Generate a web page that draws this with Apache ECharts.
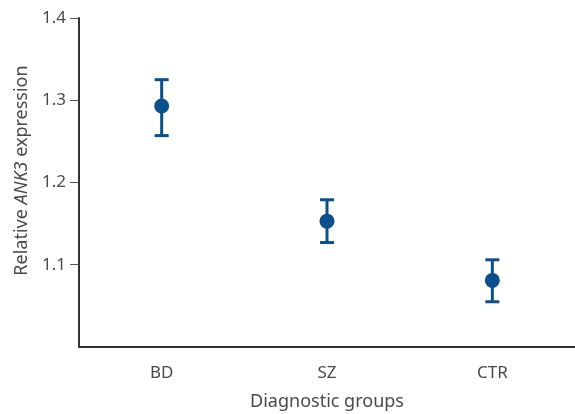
<!DOCTYPE html>
<html>
<head>
<meta charset="utf-8">
<script src="https://cdn.jsdelivr.net/npm/echarts@6/dist/echarts.min.js"></script>
<style>
html,body{margin:0;padding:0;background:#fff;}
#chart{width:575px;height:414px;}
</style>
</head>
<body>
<div id="chart"></div>
<script>
var categories = ['BD', 'SZ', 'CTR'];
var means = [1.293, 1.153, 1.081];
var upper = [1.325, 1.179, 1.106];
var lower = [1.257, 1.127, 1.055];
var yTicks = [1.1, 1.2, 1.3, 1.4];
var yMin = 1.0;

var color = '#0b4f8c';
var font = 'Noto Sans';
var txt = '#4a4a4a';

var chart = echarts.init(document.getElementById('chart'));
var errData = categories.map(function (c, i) { return [i, lower[i], upper[i]]; });

chart.setOption({
  animation: false,
  grid: { left: 79, right: 0, top: 18, bottom: 67, containLabel: false, outerBoundsMode: 'none' },
  xAxis: {
    type: 'category',
    data: categories,
    boundaryGap: true,
    name: 'Diagnostic groups',
    nameLocation: 'middle',
    nameGap: 46,
    nameTextStyle: { fontFamily: font, fontSize: 18, color: txt },
    axisLine: { lineStyle: { color: '#333', width: 2 } },
    axisTick: { alignWithLabel: true, length: 9, lineStyle: { color: '#555', width: 1 } },
    axisLabel: { fontFamily: font, fontSize: 17, color: txt, margin: 18 },
    splitLine: { show: false }
  },
  yAxis: {
    type: 'value',
    min: yMin,
    max: yTicks[yTicks.length - 1],
    interval: 0.1,
    name: '{n|Relative }{i|ANK3}{n| expression}',
    nameLocation: 'middle',
    nameRotate: 90,
    nameGap: 47,
    nameTextStyle: {
      padding: [0, 0, 0, 24],
      rich: {
        n: { fontFamily: font, fontSize: 18, color: txt },
        i: { fontFamily: font, fontSize: 18, color: txt, fontStyle: 'italic' }
      }
    },
    axisLine: { show: true, lineStyle: { color: '#333', width: 2 } },
    axisTick: { show: true, length: 9, customValues: yTicks, lineStyle: { color: '#555', width: 1 } },
    axisLabel: {
      fontFamily: font, fontSize: 17, color: txt, margin: 13,
      customValues: yTicks,
      formatter: function (v) { return v.toFixed(1); }
    },
    splitLine: { show: false }
  },
  series: [
    {
      type: 'custom',
      data: errData,
      renderItem: function (params, api) {
        var x = api.value(0);
        var lo = api.coord([x, api.value(1)]);
        var hi = api.coord([x, api.value(2)]);
        var hw = 7;
        var st = { stroke: color, lineWidth: 3 };
        return {
          type: 'group',
          children: [
            { type: 'line', shape: { x1: lo[0], y1: lo[1], x2: hi[0], y2: hi[1] }, style: st },
            { type: 'line', shape: { x1: hi[0] - hw, y1: hi[1], x2: hi[0] + hw, y2: hi[1] }, style: st },
            { type: 'line', shape: { x1: lo[0] - hw, y1: lo[1], x2: lo[0] + hw, y2: lo[1] }, style: st }
          ]
        };
      },
      z: 2
    },
    {
      type: 'scatter',
      data: means,
      symbol: 'circle',
      symbolSize: 15,
      itemStyle: { color: color, opacity: 1 },
      z: 3
    }
  ]
});
</script>
</body>
</html>
